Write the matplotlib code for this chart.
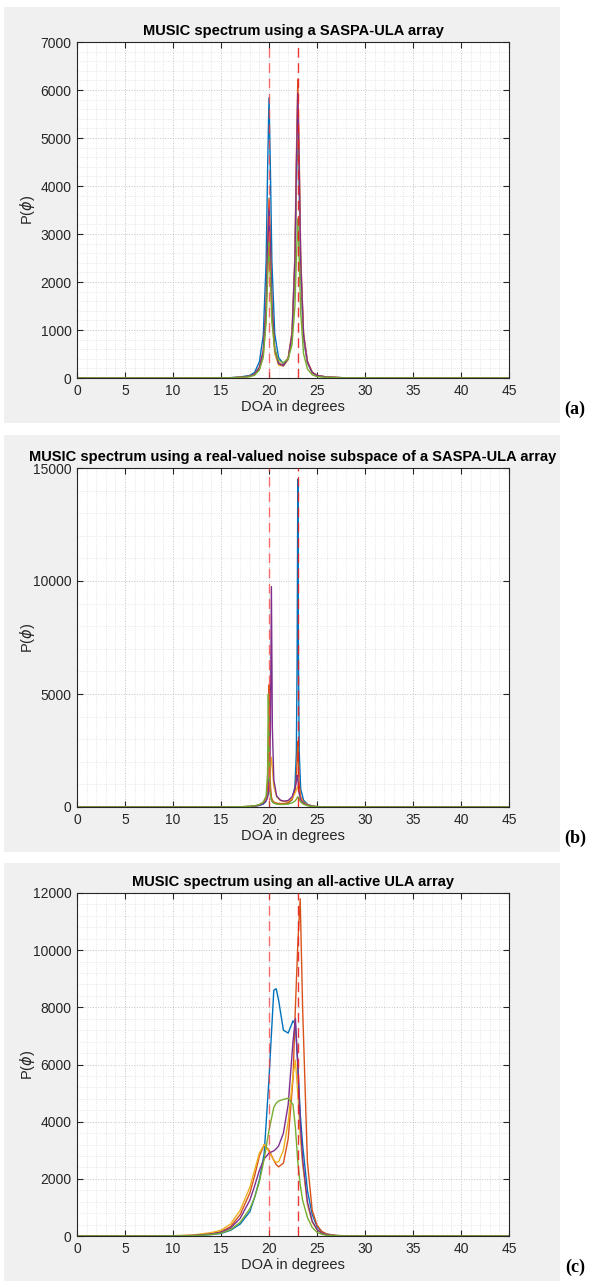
import matplotlib
matplotlib.use("Agg")
import matplotlib.pyplot as plt
from matplotlib.patches import Rectangle
from matplotlib.ticker import MultipleLocator

plt.rcParams['font.family'] = ['Liberation Sans', 'DejaVu Sans']

colors = ['#0072BD', '#D95319', '#EDB120', '#7E2F8E', '#77AC30']
doa_true = [20, 23]

# (a) SASPA-ULA
xa = [0, 10, 15, 16, 17, 18, 18.5, 19, 19.4, 19.7, 19.85, 20, 20.15, 20.3, 20.6, 21, 21.5, 22,
      22.4, 22.7, 22.85, 23, 23.15, 23.3, 23.6, 24, 24.5, 25, 26, 28, 45]
a_blue = [0, 0, 3, 7, 21, 54, 117, 338, 882, 2407, 4295, 5837, 4304, 2423, 915, 424, 300, 402,
          846, 2222, 3941, 5341, 3933, 2206, 811, 312, 110, 51, 20, 3, 0]
a_orange = [0, 0, 2, 6, 15, 39, 83, 226, 577, 1551, 2757, 3743, 2768, 1570, 614, 313, 267, 423,
            958, 2573, 4585, 6226, 4580, 2563, 935, 354, 121, 56, 21, 3, 0]
a_yellow = [0, 0, 2, 5, 12, 33, 68, 185, 470, 1261, 2239, 3040, 2249, 1278, 505, 265, 250, 382,
            876, 2363, 4213, 5721, 4209, 2354, 858, 324, 110, 50, 19, 3, 0]
a_purple = [0, 0, 2, 5, 14, 37, 78, 214, 545, 1467, 2608, 3541, 2618, 1485, 581, 298, 254, 402,
            910, 2449, 4364, 5925, 4359, 2439, 889, 337, 115, 52, 20, 3, 0]
a_green = [0, 0, 2, 4, 10, 27, 58, 166, 429, 1166, 2078, 2823, 2083, 1176, 600, 360, 320, 400,
           700, 1500, 2448, 3320, 2444, 1369, 501, 192, 66, 30, 12, 2, 0]

# (b) real-valued noise subspace
xb = [0, 10, 15, 17, 18, 18.5, 19, 19.4, 19.7, 19.85, 19.93, 20.0, 20.07, 20.15, 20.25, 20.35,
      20.5, 20.8, 21.2, 21.6, 22.0, 22.4, 22.7, 22.85, 22.93, 23.0, 23.07, 23.15, 23.3, 23.6,
      24, 24.5, 25, 26, 28, 45]
b_blue = [0, 0, 2, 8, 20, 35, 70, 130, 260, 480, 800, 1200, 900, 560, 330, 240, 180, 140, 125,
          130, 170, 320, 900, 2400, 6500, 14500, 6500, 2400, 800, 300, 120, 45, 18, 5, 1, 0]
b_orange = [0, 0, 2, 10, 25, 45, 90, 170, 360, 900, 2200, 5400, 2300, 950, 450, 300, 220, 170,
            150, 155, 190, 330, 700, 1300, 2100, 2900, 2000, 1000, 450, 220, 100, 40, 15, 4, 1, 0]
b_yellow = [0, 0, 2, 9, 24, 45, 90, 170, 300, 460, 640, 900, 1300, 1800, 2200, 1700, 900, 450,
            280, 240, 260, 380, 600, 760, 860, 900, 820, 640, 380, 190, 90, 35, 14, 4, 1, 0]
b_purple = [0, 0, 2, 8, 22, 40, 80, 150, 280, 450, 650, 1000, 1700, 3600, 9750, 3500, 1200, 480,
            300, 260, 290, 450, 800, 1150, 1400, 1250, 900, 600, 320, 170, 80, 30, 12, 3, 1, 0]
b_green = [0, 0, 3, 12, 30, 55, 110, 220, 480, 1500, 5000, 2600, 1100, 550, 320, 230, 170, 130,
           115, 115, 130, 180, 260, 340, 410, 450, 420, 330, 220, 120, 60, 25, 10, 3, 1, 0]

# (c) all-active ULA
xc = [0, 5, 10, 12, 14, 15, 16, 17, 18, 18.5, 19, 19.5, 20, 20.5, 20.75, 21, 21.5, 22, 22.5,
      22.75, 23, 23.25, 23.5, 24, 24.5, 25, 25.5, 26, 27, 28, 30, 35, 45]
c_blue = [0, 0, 5, 15, 50, 90, 200, 420, 850, 1350, 1960, 2900, 5500, 8600, 8650, 8250, 7200,
          7100, 7530, 7400, 6000, 4300, 3200, 1600, 750, 330, 150, 65, 15, 5, 1, 0, 0]
c_orange = [0, 0, 8, 20, 80, 150, 330, 750, 1500, 2100, 2800, 3200, 3000, 2650, 2500, 2420, 2550,
            3400, 5500, 8000, 10200, 11800, 8000, 2600, 900, 380, 160, 70, 20, 6, 1, 0, 0]
c_yellow = [0, 0, 10, 30, 120, 200, 420, 900, 1700, 2300, 2900, 3200, 2950, 2650, 2580, 2600, 3000,
            4000, 5600, 6150, 5000, 3500, 2500, 1100, 480, 220, 100, 45, 12, 4, 1, 0, 0]
c_purple = [0, 0, 6, 18, 70, 130, 280, 620, 1250, 1750, 2300, 2700, 2900, 2980, 3050, 3150, 3600,
            4600, 6800, 7600, 6000, 4000, 2700, 1200, 520, 230, 100, 45, 12, 4, 1, 0, 0]
c_green = [0, 0, 4, 12, 50, 100, 220, 480, 950, 1350, 1900, 2700, 3700, 4500, 4650, 4720, 4780,
           4820, 4600, 3800, 2600, 1800, 1250, 650, 300, 130, 60, 25, 8, 2, 0, 0, 0]

W, H = 591, 1288


def draw_panel(fig, box, rect, x, curves, ymax, ystep, title, tag):
    # box / rect in pixels from the top-left corner
    bx0, by0, bx1, by1 = box
    fig.add_artist(Rectangle((bx0 / W, 1 - by1 / H), (bx1 - bx0) / W, (by1 - by0) / H,
                             transform=fig.transFigure, facecolor='#f0f0f0',
                             edgecolor='none', zorder=-10))
    l, t, r, b = rect
    ax = fig.add_axes([l / W, 1 - b / H, (r - l) / W, (b - t) / H])
    for y, c in zip(curves, colors):
        ax.plot(x, y, color=c, lw=1.0)
    ax.axvline(doa_true[0], color='#ff4040', ls=(0, (7, 4)), lw=1.0, alpha=0.75, zorder=5)
    ax.axvline(doa_true[1], color='#e82020', ls=(0, (7, 4)), lw=1.0, alpha=0.9, zorder=5)

    ax.set_xlim(0, 45)
    ax.set_ylim(0, ymax)
    ax.xaxis.set_major_locator(MultipleLocator(5))
    ax.xaxis.set_minor_locator(MultipleLocator(1))
    ax.yaxis.set_major_locator(MultipleLocator(ystep))
    ax.yaxis.set_minor_locator(MultipleLocator(ystep / 5))
    ax.grid(True, which='major', ls=':', color='#c4c4c4', lw=0.7)
    ax.grid(True, which='minor', ls=':', color='#dedede', lw=0.6)
    ax.set_axisbelow(True)
    ax.tick_params(which='major', direction='in', top=True, right=True, length=4,
                   width=0.8, labelsize=10, colors='#262626', pad=4)
    ax.tick_params(which='minor', length=0)
    for s in ax.spines.values():
        s.set_color('#262626')
        s.set_linewidth(0.8)

    ax.set_title(title, fontsize=10.5, fontweight='bold', pad=5)
    ax.set_xlabel('DOA in degrees', fontsize=10.5, color='#262626', labelpad=2)
    ax.set_ylabel(r'P($\phi$)', fontsize=10.5, color='#262626')
    ax.yaxis.set_label_coords(-0.093, 0.5)

    fig.text(575 / W, 1 - (by1 - 14) / H, tag, family='Liberation Serif',
             fontweight='bold', fontsize=13, ha='center', va='center')
    return ax


fig = plt.figure(figsize=(W / 100, H / 100), dpi=100)

draw_panel(fig, (4, 7, 560, 423), (77, 42, 509, 378), xa,
           [a_blue, a_orange, a_yellow, a_purple, a_green], 7000, 1000,
           'MUSIC spectrum using a SASPA-ULA array', '(a)')
draw_panel(fig, (4, 435, 560, 852), (77, 468, 509, 807), xb,
           [b_blue, b_orange, b_yellow, b_purple, b_green], 15000, 5000,
           'MUSIC spectrum using a real-valued noise subspace of a SASPA-ULA array', '(b)')
draw_panel(fig, (4, 863, 560, 1281), (77, 893, 509, 1236), xc,
           [c_blue, c_orange, c_yellow, c_purple, c_green], 12000, 2000,
           'MUSIC spectrum using an all-active ULA array', '(c)')

fig.savefig('out.png', dpi=100)
